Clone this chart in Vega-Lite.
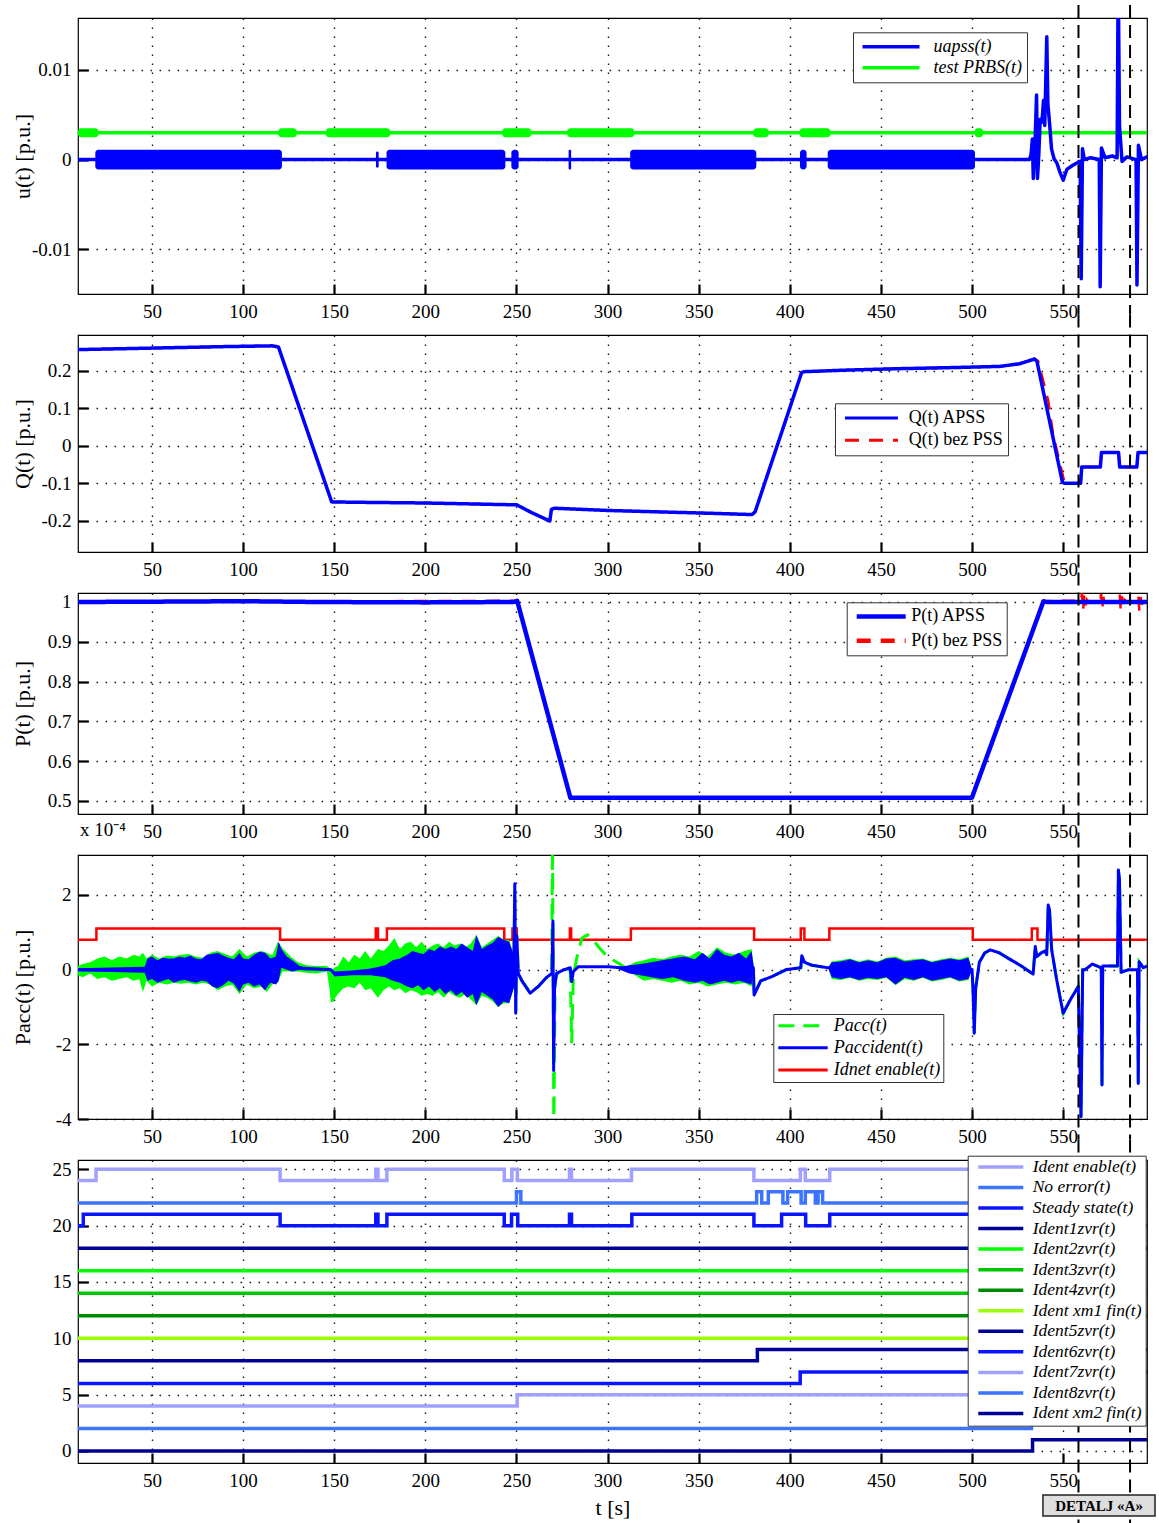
{
"$schema": "https://vega.github.io/schema/vega-lite/v6.json",
"background": "white",
"padding": {"left": 10, "top": 3, "right": 4, "bottom": 4},
"spacing": 41,
"bounds": "flush",
"resolve": {"scale": {"color": "independent", "strokeDash": "independent"}, "legend": {"color": "independent", "strokeDash": "independent"}},
"datasets": {
"dl": [{"t": 558.4}, {"t": 586.7}],
"u": [
{"s":"test PRBS(t)","t":9.4,"v":0.003},{"s":"test PRBS(t)","t":596,"v":0.003},
{"s":"uapss(t)","t":9.4,"v":0},{"s":"uapss(t)","t":531.5,"v":0},{"s":"uapss(t)","t":532.4,"v":0.0006},{"s":"uapss(t)","t":533.1,"v":0.0023},{"s":"uapss(t)","t":533.6,"v":-0.0021},{"s":"uapss(t)","t":534.4,"v":0.001},{"s":"uapss(t)","t":535.4,"v":0.0072},{"s":"uapss(t)","t":535.9,"v":-0.0021},{"s":"uapss(t)","t":536.6,"v":0.0004},{"s":"uapss(t)","t":537.4,"v":0.0045},{"s":"uapss(t)","t":538.4,"v":0.0042},{"s":"uapss(t)","t":539.2,"v":0.0066},{"s":"uapss(t)","t":539.9,"v":0.0038},{"s":"uapss(t)","t":541.0,"v":0.0137},{"s":"uapss(t)","t":541.6,"v":0.0062},{"s":"uapss(t)","t":542.6,"v":0.0039},{"s":"uapss(t)","t":543.6,"v":0.0012},{"s":"uapss(t)","t":545.0,"v":0.0001},{"s":"uapss(t)","t":546.6,"v":-0.0004},{"s":"uapss(t)","t":548.2,"v":-0.0014},{"s":"uapss(t)","t":550.0,"v":-0.0023},{"s":"uapss(t)","t":552.0,"v":-0.0011},{"s":"uapss(t)","t":555.5,"v":-0.0006},{"s":"uapss(t)","t":559.3,"v":-0.0002},{"s":"uapss(t)","t":559.9,"v":-0.0133},{"s":"uapss(t)","t":560.6,"v":0.0012},{"s":"uapss(t)","t":561.6,"v":0.0},{"s":"uapss(t)","t":565.0,"v":0.0002},{"s":"uapss(t)","t":569.8,"v":0.0},{"s":"uapss(t)","t":570.3,"v":-0.0142},{"s":"uapss(t)","t":571.0,"v":0.0013},{"s":"uapss(t)","t":573.0,"v":0.0002},{"s":"uapss(t)","t":577.0,"v":0.0004},{"s":"uapss(t)","t":579.6,"v":0.0002},{"s":"uapss(t)","t":580.2,"v":0.021},{"s":"uapss(t)","t":580.9,"v":0.0038},{"s":"uapss(t)","t":582.3,"v":-0.0002},{"s":"uapss(t)","t":585.0,"v":0.0003},{"s":"uapss(t)","t":590.0,"v":0.0},{"s":"uapss(t)","t":590.5,"v":-0.014},{"s":"uapss(t)","t":591.3,"v":0.0016},{"s":"uapss(t)","t":593.0,"v":0.0},{"s":"uapss(t)","t":596,"v":0.0003}
],
"ub": [
{"s":"uapss(t)","t0":18.9,"t1":121.3,"lo":-0.0011,"hi":0.0011},
{"s":"uapss(t)","t0":172.9,"t1":174.4,"lo":-0.0009,"hi":0.0009},
{"s":"uapss(t)","t0":178.7,"t1":243.9,"lo":-0.0011,"hi":0.0011},
{"s":"uapss(t)","t0":247.2,"t1":251.2,"lo":-0.0011,"hi":0.0011},
{"s":"uapss(t)","t0":278.6,"t1":280.0,"lo":-0.0011,"hi":0.0011},
{"s":"uapss(t)","t0":312.4,"t1":381.6,"lo":-0.0011,"hi":0.0011},
{"s":"uapss(t)","t0":405.6,"t1":409.2,"lo":-0.0011,"hi":0.0011},
{"s":"uapss(t)","t0":420.8,"t1":501.6,"lo":-0.0011,"hi":0.0011},
{"s":"test PRBS(t)","t0":9.4,"t1":20.6,"lo":0.0025,"hi":0.0035},
{"s":"test PRBS(t)","t0":119.4,"t1":129.4,"lo":0.0025,"hi":0.0035},
{"s":"test PRBS(t)","t0":145.4,"t1":180.7,"lo":0.0025,"hi":0.0035},
{"s":"test PRBS(t)","t0":242.2,"t1":258.1,"lo":0.0025,"hi":0.0035},
{"s":"test PRBS(t)","t0":277.9,"t1":314.6,"lo":0.0025,"hi":0.0035},
{"s":"test PRBS(t)","t0":380.0,"t1":388.4,"lo":0.0025,"hi":0.0035},
{"s":"test PRBS(t)","t0":405.4,"t1":422.3,"lo":0.0025,"hi":0.0035},
{"s":"test PRBS(t)","t0":501.5,"t1":506.0,"lo":0.0025,"hi":0.0035}
],
"q": [
{"s":"Q(t) APSS","t":9.4,"v":0.257},{"s":"Q(t) APSS","t":30,"v":0.259},{"s":"Q(t) APSS","t":60,"v":0.262},{"s":"Q(t) APSS","t":90,"v":0.265},{"s":"Q(t) APSS","t":116,"v":0.267},{"s":"Q(t) APSS","t":119.4,"v":0.264},{"s":"Q(t) APSS","t":148.6,"v":-0.150},{"s":"Q(t) APSS","t":160,"v":-0.151},{"s":"Q(t) APSS","t":200,"v":-0.153},{"s":"Q(t) APSS","t":230,"v":-0.156},{"s":"Q(t) APSS","t":250.2,"v":-0.158},{"s":"Q(t) APSS","t":258,"v":-0.178},{"s":"Q(t) APSS","t":266,"v":-0.196},{"s":"Q(t) APSS","t":268.3,"v":-0.201},{"s":"Q(t) APSS","t":269.2,"v":-0.170},{"s":"Q(t) APSS","t":271,"v":-0.167},{"s":"Q(t) APSS","t":300,"v":-0.173},{"s":"Q(t) APSS","t":330,"v":-0.177},{"s":"Q(t) APSS","t":360,"v":-0.181},{"s":"Q(t) APSS","t":379.3,"v":-0.184},{"s":"Q(t) APSS","t":381,"v":-0.176},{"s":"Q(t) APSS","t":406.5,"v":0.196},{"s":"Q(t) APSS","t":408,"v":0.198},{"s":"Q(t) APSS","t":430,"v":0.202},{"s":"Q(t) APSS","t":460,"v":0.206},{"s":"Q(t) APSS","t":490,"v":0.209},{"s":"Q(t) APSS","t":515,"v":0.212},{"s":"Q(t) APSS","t":526,"v":0.219},{"s":"Q(t) APSS","t":534.3,"v":0.232},{"s":"Q(t) APSS","t":535.6,"v":0.226},{"s":"Q(t) APSS","t":549.6,"v":-0.098},{"s":"Q(t) APSS","t":550.6,"v":-0.1},{"s":"Q(t) APSS","t":559.6,"v":-0.1},{"s":"Q(t) APSS","t":560.2,"v":-0.057},{"s":"Q(t) APSS","t":570.4,"v":-0.057},{"s":"Q(t) APSS","t":571,"v":-0.018},{"s":"Q(t) APSS","t":580.4,"v":-0.018},{"s":"Q(t) APSS","t":581,"v":-0.057},{"s":"Q(t) APSS","t":590.4,"v":-0.057},{"s":"Q(t) APSS","t":591.1,"v":-0.018},{"s":"Q(t) APSS","t":596,"v":-0.018},
{"s":"Q(t) bez PSS","t":9.4,"v":0.257},{"s":"Q(t) bez PSS","t":30,"v":0.259},{"s":"Q(t) bez PSS","t":60,"v":0.262},{"s":"Q(t) bez PSS","t":90,"v":0.265},{"s":"Q(t) bez PSS","t":116,"v":0.267},{"s":"Q(t) bez PSS","t":119.4,"v":0.264},{"s":"Q(t) bez PSS","t":148.6,"v":-0.150},{"s":"Q(t) bez PSS","t":160,"v":-0.151},{"s":"Q(t) bez PSS","t":200,"v":-0.153},{"s":"Q(t) bez PSS","t":230,"v":-0.156},{"s":"Q(t) bez PSS","t":250.2,"v":-0.158},{"s":"Q(t) bez PSS","t":258,"v":-0.178},{"s":"Q(t) bez PSS","t":266,"v":-0.196},{"s":"Q(t) bez PSS","t":268.3,"v":-0.201},{"s":"Q(t) bez PSS","t":269.2,"v":-0.170},{"s":"Q(t) bez PSS","t":271,"v":-0.167},{"s":"Q(t) bez PSS","t":300,"v":-0.173},{"s":"Q(t) bez PSS","t":330,"v":-0.177},{"s":"Q(t) bez PSS","t":360,"v":-0.181},{"s":"Q(t) bez PSS","t":379.3,"v":-0.184},{"s":"Q(t) bez PSS","t":381,"v":-0.176},{"s":"Q(t) bez PSS","t":406.5,"v":0.196},{"s":"Q(t) bez PSS","t":408,"v":0.198},{"s":"Q(t) bez PSS","t":430,"v":0.202},{"s":"Q(t) bez PSS","t":460,"v":0.206},{"s":"Q(t) bez PSS","t":490,"v":0.209},{"s":"Q(t) bez PSS","t":515,"v":0.212},{"s":"Q(t) bez PSS","t":526,"v":0.219},{"s":"Q(t) bez PSS","t":534.3,"v":0.232},{"s":"Q(t) bez PSS","t":536.3,"v":0.226},{"s":"Q(t) bez PSS","t":541.8,"v":0.12},{"s":"Q(t) bez PSS","t":544.5,"v":0.03},{"s":"Q(t) bez PSS","t":550.8,"v":-0.1},{"s":"Q(t) bez PSS","t":559.6,"v":-0.1},{"s":"Q(t) bez PSS","t":560.2,"v":-0.057},{"s":"Q(t) bez PSS","t":570.4,"v":-0.057},{"s":"Q(t) bez PSS","t":571,"v":-0.018},{"s":"Q(t) bez PSS","t":580.4,"v":-0.018},{"s":"Q(t) bez PSS","t":581,"v":-0.057},{"s":"Q(t) bez PSS","t":590.4,"v":-0.057},{"s":"Q(t) bez PSS","t":591.1,"v":-0.018},{"s":"Q(t) bez PSS","t":596,"v":-0.018}
],
"p": [
{"s":"P(t) APSS","t":9.4,"v":1.0},{"s":"P(t) APSS","t":60,"v":1.001},{"s":"P(t) APSS","t":100,"v":1.002},{"s":"P(t) APSS","t":140,"v":1.0},{"s":"P(t) APSS","t":200,"v":0.999},{"s":"P(t) APSS","t":248.5,"v":1.0},{"s":"P(t) APSS","t":250.4,"v":1.003},{"s":"P(t) APSS","t":279.6,"v":0.508},{"s":"P(t) APSS","t":300,"v":0.508},{"s":"P(t) APSS","t":400,"v":0.508},{"s":"P(t) APSS","t":499.9,"v":0.508},{"s":"P(t) APSS","t":539.2,"v":1.002},{"s":"P(t) APSS","t":541,"v":1.0},{"s":"P(t) APSS","t":596,"v":1.0},
{"s":"P(t) bez PSS","t":9.4,"v":1.0},{"s":"P(t) bez PSS","t":250.4,"v":1.003},{"s":"P(t) bez PSS","t":279.6,"v":0.508},{"s":"P(t) bez PSS","t":499.9,"v":0.508},{"s":"P(t) bez PSS","t":539.2,"v":1.002},{"s":"P(t) bez PSS","t":545,"v":1.003},{"s":"P(t) bez PSS","t":556,"v":1.003},{"s":"P(t) bez PSS","t":559.8,"v":1.0},{"s":"P(t) bez PSS","t":560.3,"v":1.022},{"s":"P(t) bez PSS","t":560.9,"v":0.978},{"s":"P(t) bez PSS","t":561.6,"v":1.016},{"s":"P(t) bez PSS","t":562.3,"v":0.99},{"s":"P(t) bez PSS","t":563,"v":1.006},{"s":"P(t) bez PSS","t":564,"v":1.0},{"s":"P(t) bez PSS","t":570.3,"v":1.0},{"s":"P(t) bez PSS","t":570.8,"v":1.02},{"s":"P(t) bez PSS","t":571.4,"v":0.98},{"s":"P(t) bez PSS","t":572.1,"v":1.013},{"s":"P(t) bez PSS","t":572.8,"v":0.992},{"s":"P(t) bez PSS","t":573.6,"v":1.004},{"s":"P(t) bez PSS","t":574.5,"v":1.0},{"s":"P(t) bez PSS","t":580.5,"v":1.0},{"s":"P(t) bez PSS","t":581,"v":1.024},{"s":"P(t) bez PSS","t":581.6,"v":0.976},{"s":"P(t) bez PSS","t":582.3,"v":1.014},{"s":"P(t) bez PSS","t":583,"v":0.99},{"s":"P(t) bez PSS","t":583.8,"v":1.005},{"s":"P(t) bez PSS","t":585,"v":1.0},{"s":"P(t) bez PSS","t":590.7,"v":1.0},{"s":"P(t) bez PSS","t":591.2,"v":1.02},{"s":"P(t) bez PSS","t":591.8,"v":0.977},{"s":"P(t) bez PSS","t":592.5,"v":1.012},{"s":"P(t) bez PSS","t":593.2,"v":0.993},{"s":"P(t) bez PSS","t":594,"v":1.004},{"s":"P(t) bez PSS","t":596,"v":1.0}
],
"pl": [
{"s":"Idnet enable(t)","t":9.4,"v":0.8},{"s":"Idnet enable(t)","t":19.5,"v":1.1},{"s":"Idnet enable(t)","t":120.3,"v":0.8},{"s":"Idnet enable(t)","t":172.8,"v":1.1},{"s":"Idnet enable(t)","t":174,"v":0.8},{"s":"Idnet enable(t)","t":178.9,"v":1.1},{"s":"Idnet enable(t)","t":243.3,"v":0.8},{"s":"Idnet enable(t)","t":247.8,"v":1.1},{"s":"Idnet enable(t)","t":250.2,"v":0.8},{"s":"Idnet enable(t)","t":279.3,"v":1.1},{"s":"Idnet enable(t)","t":280,"v":0.8},{"s":"Idnet enable(t)","t":312.8,"v":1.1},{"s":"Idnet enable(t)","t":380.4,"v":0.8},{"s":"Idnet enable(t)","t":406,"v":1.1},{"s":"Idnet enable(t)","t":408,"v":0.8},{"s":"Idnet enable(t)","t":421.7,"v":1.1},{"s":"Idnet enable(t)","t":500.4,"v":0.8},{"s":"Idnet enable(t)","t":532.8,"v":1.1},{"s":"Idnet enable(t)","t":535.9,"v":0.8},{"s":"Idnet enable(t)","t":596,"v":0.8},
{"s":"Paccident(t)","t":9.4,"v":0},{"s":"Paccident(t)","t":47,"v":0},{"s":"Paccident(t)","t":118.5,"v":0.05},{"s":"Paccident(t)","t":119.5,"v":0.4},{"s":"Paccident(t)","t":121,"v":0.25},{"s":"Paccident(t)","t":124,"v":0.15},{"s":"Paccident(t)","t":130,"v":0.05},{"s":"Paccident(t)","t":140,"v":0.02},{"s":"Paccident(t)","t":148,"v":0},{"s":"Paccident(t)","t":150,"v":-0.1},{"s":"Paccident(t)","t":165,"v":-0.1},{"s":"Paccident(t)","t":178,"v":-0.05},{"s":"Paccident(t)","t":185,"v":0},{"s":"Paccident(t)","t":248.5,"v":0},{"s":"Paccident(t)","t":249.1,"v":2.3},{"s":"Paccident(t)","t":249.6,"v":-1.17},{"s":"Paccident(t)","t":250.2,"v":0.9},{"s":"Paccident(t)","t":251,"v":-0.1},{"s":"Paccident(t)","t":253,"v":-0.3},{"s":"Paccident(t)","t":257.5,"v":-0.63},{"s":"Paccident(t)","t":262,"v":-0.45},{"s":"Paccident(t)","t":266.7,"v":-0.2},{"s":"Paccident(t)","t":269.5,"v":-0.1},{"s":"Paccident(t)","t":270,"v":1.3},{"s":"Paccident(t)","t":270.4,"v":-2.7},{"s":"Paccident(t)","t":270.9,"v":-0.5},{"s":"Paccident(t)","t":272,"v":-0.1},{"s":"Paccident(t)","t":276,"v":0},{"s":"Paccident(t)","t":279.5,"v":0.05},{"s":"Paccident(t)","t":280.3,"v":-0.32},{"s":"Paccident(t)","t":281.2,"v":-0.05},{"s":"Paccident(t)","t":284,"v":0.08},{"s":"Paccident(t)","t":300,"v":0.08},{"s":"Paccident(t)","t":310,"v":0.04},{"s":"Paccident(t)","t":380,"v":0.05},{"s":"Paccident(t)","t":380.4,"v":-0.68},{"s":"Paccident(t)","t":384,"v":-0.3},{"s":"Paccident(t)","t":390,"v":-0.19},{"s":"Paccident(t)","t":398,"v":0},{"s":"Paccident(t)","t":406,"v":0.05},{"s":"Paccident(t)","t":406.6,"v":0.37},{"s":"Paccident(t)","t":408,"v":0.2},{"s":"Paccident(t)","t":412,"v":0.12},{"s":"Paccident(t)","t":421,"v":0.05},{"s":"Paccident(t)","t":500,"v":0},{"s":"Paccident(t)","t":500.5,"v":-0.5},{"s":"Paccident(t)","t":501.2,"v":-1.7},{"s":"Paccident(t)","t":502,"v":-0.5},{"s":"Paccident(t)","t":504,"v":0.2},{"s":"Paccident(t)","t":507,"v":0.45},{"s":"Paccident(t)","t":510,"v":0.53},{"s":"Paccident(t)","t":515,"v":0.45},{"s":"Paccident(t)","t":520,"v":0.3},{"s":"Paccident(t)","t":527,"v":0.1},{"s":"Paccident(t)","t":533.5,"v":-0.12},{"s":"Paccident(t)","t":534.7,"v":0.62},{"s":"Paccident(t)","t":535.5,"v":0.35},{"s":"Paccident(t)","t":538,"v":0.45},{"s":"Paccident(t)","t":540,"v":0.5},{"s":"Paccident(t)","t":541,"v":0.4},{"s":"Paccident(t)","t":541.8,"v":1.73},{"s":"Paccident(t)","t":542.5,"v":1.6},{"s":"Paccident(t)","t":543.7,"v":0.53},{"s":"Paccident(t)","t":546.4,"v":-0.26},{"s":"Paccident(t)","t":550,"v":-1.17},{"s":"Paccident(t)","t":554,"v":-0.8},{"s":"Paccident(t)","t":558.3,"v":-0.45},{"s":"Paccident(t)","t":559.8,"v":-3.94},{"s":"Paccident(t)","t":560.7,"v":0},{"s":"Paccident(t)","t":562,"v":0},{"s":"Paccident(t)","t":566,"v":0.15},{"s":"Paccident(t)","t":570.9,"v":0.05},{"s":"Paccident(t)","t":571.3,"v":-3.09},{"s":"Paccident(t)","t":571.7,"v":0.1},{"s":"Paccident(t)","t":575,"v":0.1},{"s":"Paccident(t)","t":579.8,"v":0.1},{"s":"Paccident(t)","t":580.3,"v":2.67},{"s":"Paccident(t)","t":580.9,"v":2.4},{"s":"Paccident(t)","t":581.8,"v":-0.07},{"s":"Paccident(t)","t":586,"v":0},{"s":"Paccident(t)","t":590.8,"v":0},{"s":"Paccident(t)","t":591.2,"v":-3.05},{"s":"Paccident(t)","t":591.7,"v":0.21},{"s":"Paccident(t)","t":594,"v":0.05},{"s":"Paccident(t)","t":596,"v":0.1},
{"s":"Pacc(t)","t":9.4,"v":0},{"s":"Pacc(t)","t":148,"v":0},{"s":"Pacc(t)","t":148.8,"v":-0.86},{"s":"Pacc(t)","t":150,"v":-0.4},{"s":"Pacc(t)","t":152,"v":-0.2},{"s":"Pacc(t)","t":165,"v":-0.1},{"s":"Pacc(t)","t":178,"v":-0.05},{"s":"Pacc(t)","t":185,"v":0},{"s":"Pacc(t)","t":248.5,"v":0},{"s":"Pacc(t)","t":249.1,"v":2.1},{"s":"Pacc(t)","t":249.6,"v":-1.1},{"s":"Pacc(t)","t":250.2,"v":0.9},{"s":"Pacc(t)","t":251,"v":-0.1},{"s":"Pacc(t)","t":253,"v":-0.3},{"s":"Pacc(t)","t":257.5,"v":-0.6},{"s":"Pacc(t)","t":262,"v":-0.45},{"s":"Pacc(t)","t":266.7,"v":-0.2},{"s":"Pacc(t)","t":269.3,"v":0},{"s":"Pacc(t)","t":269.8,"v":3.3},{"s":"Pacc(t)","t":270.5,"v":-4.3},{"s":"Pacc(t)","t":271.2,"v":-0.3},{"s":"Pacc(t)","t":272.5,"v":-0.1},{"s":"Pacc(t)","t":276,"v":0},{"s":"Pacc(t)","t":279.5,"v":0},{"s":"Pacc(t)","t":280.3,"v":-1.97},{"s":"Pacc(t)","t":281.2,"v":-0.2},{"s":"Pacc(t)","t":283,"v":0.3},{"s":"Pacc(t)","t":286,"v":0.85},{"s":"Pacc(t)","t":289,"v":0.93},{"s":"Pacc(t)","t":292,"v":0.8},{"s":"Pacc(t)","t":296,"v":0.55},{"s":"Pacc(t)","t":300,"v":0.35},{"s":"Pacc(t)","t":305,"v":0.2},{"s":"Pacc(t)","t":310,"v":0.05},{"s":"Pacc(t)","t":380,"v":0.05},{"s":"Pacc(t)","t":380.4,"v":-0.68},{"s":"Pacc(t)","t":384,"v":-0.3},{"s":"Pacc(t)","t":390,"v":-0.19},{"s":"Pacc(t)","t":398,"v":0},{"s":"Pacc(t)","t":406,"v":0.05},{"s":"Pacc(t)","t":406.6,"v":0.37},{"s":"Pacc(t)","t":408,"v":0.2},{"s":"Pacc(t)","t":412,"v":0.12},{"s":"Pacc(t)","t":421,"v":0.05},{"s":"Pacc(t)","t":500,"v":0},{"s":"Pacc(t)","t":500.5,"v":-0.5},{"s":"Pacc(t)","t":501.2,"v":-1.7},{"s":"Pacc(t)","t":502,"v":-0.5},{"s":"Pacc(t)","t":504,"v":0.2},{"s":"Pacc(t)","t":507,"v":0.45},{"s":"Pacc(t)","t":510,"v":0.53},{"s":"Pacc(t)","t":515,"v":0.45},{"s":"Pacc(t)","t":520,"v":0.3},{"s":"Pacc(t)","t":527,"v":0.1},{"s":"Pacc(t)","t":533.5,"v":-0.12},{"s":"Pacc(t)","t":534.7,"v":0.62},{"s":"Pacc(t)","t":535.5,"v":0.35},{"s":"Pacc(t)","t":538,"v":0.45},{"s":"Pacc(t)","t":540,"v":0.5},{"s":"Pacc(t)","t":541,"v":0.4},{"s":"Pacc(t)","t":541.8,"v":1.73},{"s":"Pacc(t)","t":542.5,"v":1.6},{"s":"Pacc(t)","t":543.7,"v":0.53},{"s":"Pacc(t)","t":546.4,"v":-0.26},{"s":"Pacc(t)","t":550,"v":-1.17},{"s":"Pacc(t)","t":554,"v":-0.8},{"s":"Pacc(t)","t":558.3,"v":-0.45},{"s":"Pacc(t)","t":559.8,"v":-3.94},{"s":"Pacc(t)","t":560.7,"v":0},{"s":"Pacc(t)","t":562,"v":0},{"s":"Pacc(t)","t":566,"v":0.15},{"s":"Pacc(t)","t":570.9,"v":0.05},{"s":"Pacc(t)","t":571.3,"v":-3.09},{"s":"Pacc(t)","t":571.7,"v":0.1},{"s":"Pacc(t)","t":575,"v":0.1},{"s":"Pacc(t)","t":579.8,"v":0.1},{"s":"Pacc(t)","t":580.3,"v":2.67},{"s":"Pacc(t)","t":580.9,"v":2.4},{"s":"Pacc(t)","t":581.8,"v":-0.07},{"s":"Pacc(t)","t":586,"v":0},{"s":"Pacc(t)","t":590.8,"v":0},{"s":"Pacc(t)","t":591.2,"v":-3.05},{"s":"Pacc(t)","t":591.7,"v":0.21},{"s":"Pacc(t)","t":594,"v":0.05},{"s":"Pacc(t)","t":596,"v":0.1}
],
"ge": [
{"g":1,"t":9.4,"lo":-0.15,"hi":0.1},{"g":1,"t":12,"lo":-0.2,"hi":0.15},{"g":1,"t":16,"lo":-0.1,"hi":0.2},{"g":1,"t":20,"lo":-0.25,"hi":0.3},{"g":1,"t":24,"lo":-0.2,"hi":0.35},{"g":1,"t":28,"lo":-0.3,"hi":0.25},{"g":1,"t":32,"lo":-0.25,"hi":0.35},{"g":1,"t":36,"lo":-0.2,"hi":0.3},{"g":1,"t":40,"lo":-0.3,"hi":0.4},{"g":1,"t":43,"lo":-0.25,"hi":0.35},{"g":1,"t":45,"lo":-0.6,"hi":0.45},{"g":1,"t":47,"lo":-0.3,"hi":0.3},{"g":1,"t":50,"lo":-0.45,"hi":0.4},{"g":1,"t":54,"lo":-0.35,"hi":0.3},{"g":1,"t":58,"lo":-0.4,"hi":0.38},{"g":1,"t":62,"lo":-0.35,"hi":0.35},{"g":1,"t":66,"lo":-0.38,"hi":0.4},{"g":1,"t":70,"lo":-0.35,"hi":0.42},{"g":1,"t":74,"lo":-0.4,"hi":0.35},{"g":1,"t":78,"lo":-0.35,"hi":0.32},{"g":1,"t":82,"lo":-0.4,"hi":0.45},{"g":1,"t":86,"lo":-0.55,"hi":0.5},{"g":1,"t":90,"lo":-0.45,"hi":0.42},{"g":1,"t":94,"lo":-0.4,"hi":0.35},{"g":1,"t":98,"lo":-0.65,"hi":0.55},{"g":1,"t":102,"lo":-0.4,"hi":0.35},{"g":1,"t":106,"lo":-0.5,"hi":0.45},{"g":1,"t":110,"lo":-0.45,"hi":0.5},{"g":1,"t":113,"lo":-0.6,"hi":0.45},{"g":1,"t":116,"lo":-0.4,"hi":0.38},{"g":1,"t":119,"lo":-0.35,"hi":0.75},{"g":1,"t":122,"lo":0.0,"hi":0.55},{"g":1,"t":126,"lo":-0.05,"hi":0.35},{"g":1,"t":130,"lo":-0.05,"hi":0.2},{"g":1,"t":135,"lo":-0.08,"hi":0.12},{"g":1,"t":140,"lo":-0.1,"hi":0.1},{"g":1,"t":146,"lo":-0.05,"hi":0.1},{"g":1,"t":148.5,"lo":-0.86,"hi":0},{"g":1,"t":150,"lo":-0.8,"hi":0.05},{"g":1,"t":152,"lo":-0.65,"hi":0.1},{"g":1,"t":155,"lo":-0.5,"hi":0.35},{"g":1,"t":158,"lo":-0.45,"hi":0.2},{"g":1,"t":161,"lo":-0.5,"hi":0.4},{"g":1,"t":164,"lo":-0.35,"hi":0.3},{"g":1,"t":167,"lo":-0.55,"hi":0.5},{"g":1,"t":170,"lo":-0.5,"hi":0.3},{"g":1,"t":174,"lo":-0.75,"hi":0.55},{"g":1,"t":177,"lo":-0.55,"hi":0.5},{"g":1,"t":180,"lo":-0.45,"hi":0.65},{"g":1,"t":183,"lo":-0.55,"hi":0.85},{"g":1,"t":186,"lo":-0.5,"hi":0.55},{"g":1,"t":189,"lo":-0.63,"hi":0.7},{"g":1,"t":192,"lo":-0.55,"hi":0.75},{"g":1,"t":195,"lo":-0.6,"hi":0.6},{"g":1,"t":198,"lo":-0.7,"hi":0.75},{"g":1,"t":201,"lo":-0.65,"hi":0.55},{"g":1,"t":204,"lo":-0.7,"hi":0.65},{"g":1,"t":207,"lo":-0.6,"hi":0.7},{"g":1,"t":210,"lo":-0.75,"hi":0.6},{"g":1,"t":213,"lo":-0.6,"hi":0.75},{"g":1,"t":216,"lo":-0.7,"hi":0.65},{"g":1,"t":219,"lo":-0.75,"hi":0.7},{"g":1,"t":222,"lo":-0.65,"hi":0.6},{"g":1,"t":225,"lo":-0.8,"hi":0.7},{"g":1,"t":228,"lo":-0.95,"hi":0.93},{"g":1,"t":231,"lo":-0.7,"hi":0.6},{"g":1,"t":234,"lo":-0.75,"hi":0.7},{"g":1,"t":237,"lo":-0.85,"hi":0.8},{"g":1,"t":240,"lo":-1.0,"hi":0.9},{"g":1,"t":243,"lo":-0.9,"hi":0.8},{"g":1,"t":246,"lo":-0.9,"hi":0.8},{"g":1,"t":248.5,"lo":-0.5,"hi":0.4},{"g":1,"t":250,"lo":0,"hi":0},
{"g":2,"t":310,"lo":0.03,"hi":0.07},{"g":2,"t":315,"lo":-0.15,"hi":0.2},{"g":2,"t":320,"lo":-0.3,"hi":0.25},{"g":2,"t":325,"lo":-0.25,"hi":0.32},{"g":2,"t":330,"lo":-0.3,"hi":0.28},{"g":2,"t":335,"lo":-0.35,"hi":0.35},{"g":2,"t":340,"lo":-0.3,"hi":0.4},{"g":2,"t":345,"lo":-0.4,"hi":0.35},{"g":2,"t":350,"lo":-0.35,"hi":0.5},{"g":2,"t":355,"lo":-0.45,"hi":0.35},{"g":2,"t":360,"lo":-0.4,"hi":0.6},{"g":2,"t":365,"lo":-0.35,"hi":0.45},{"g":2,"t":370,"lo":-0.4,"hi":0.4},{"g":2,"t":375,"lo":-0.35,"hi":0.5},{"g":2,"t":379,"lo":-0.45,"hi":0.55},{"g":2,"t":380.3,"lo":0.05,"hi":0.05},
{"g":3,"t":421,"lo":0.05,"hi":0.05},{"g":3,"t":423,"lo":-0.25,"hi":0.22},{"g":3,"t":428,"lo":-0.28,"hi":0.25},{"g":3,"t":433,"lo":-0.22,"hi":0.3},{"g":3,"t":438,"lo":-0.3,"hi":0.22},{"g":3,"t":443,"lo":-0.25,"hi":0.28},{"g":3,"t":448,"lo":-0.28,"hi":0.22},{"g":3,"t":453,"lo":-0.22,"hi":0.32},{"g":3,"t":458,"lo":-0.42,"hi":0.35},{"g":3,"t":463,"lo":-0.25,"hi":0.25},{"g":3,"t":468,"lo":-0.3,"hi":0.28},{"g":3,"t":473,"lo":-0.22,"hi":0.3},{"g":3,"t":478,"lo":-0.32,"hi":0.22},{"g":3,"t":483,"lo":-0.28,"hi":0.28},{"g":3,"t":488,"lo":-0.22,"hi":0.32},{"g":3,"t":493,"lo":-0.32,"hi":0.28},{"g":3,"t":498,"lo":-0.28,"hi":0.35},{"g":3,"t":500,"lo":0,"hi":0}
],
"be": [
{"g":1,"t":9.4,"lo":-0.04,"hi":0.04},{"g":1,"t":46,"lo":-0.08,"hi":0.08},{"g":1,"t":47.5,"lo":-0.3,"hi":0.3},{"g":1,"t":50,"lo":-0.25,"hi":0.35},{"g":1,"t":53,"lo":-0.35,"hi":0.25},{"g":1,"t":56,"lo":-0.3,"hi":0.32},{"g":1,"t":59,"lo":-0.25,"hi":0.3},{"g":1,"t":62,"lo":-0.35,"hi":0.3},{"g":1,"t":65,"lo":-0.3,"hi":0.35},{"g":1,"t":68,"lo":-0.28,"hi":0.32},{"g":1,"t":71,"lo":-0.32,"hi":0.38},{"g":1,"t":74,"lo":-0.35,"hi":0.3},{"g":1,"t":77,"lo":-0.3,"hi":0.28},{"g":1,"t":80,"lo":-0.32,"hi":0.4},{"g":1,"t":83,"lo":-0.45,"hi":0.42},{"g":1,"t":86,"lo":-0.5,"hi":0.45},{"g":1,"t":89,"lo":-0.42,"hi":0.38},{"g":1,"t":92,"lo":-0.3,"hi":0.32},{"g":1,"t":95,"lo":-0.38,"hi":0.28},{"g":1,"t":98,"lo":-0.6,"hi":0.45},{"g":1,"t":100,"lo":-0.4,"hi":0.3},{"g":1,"t":103,"lo":-0.35,"hi":0.28},{"g":1,"t":106,"lo":-0.45,"hi":0.4},{"g":1,"t":109,"lo":-0.4,"hi":0.48},{"g":1,"t":112,"lo":-0.55,"hi":0.45},{"g":1,"t":115,"lo":-0.35,"hi":0.3},{"g":1,"t":118,"lo":-0.4,"hi":0.35},{"g":1,"t":119.5,"lo":-0.3,"hi":0.75},{"g":1,"t":121,"lo":0.05,"hi":0.55},{"g":1,"t":124,"lo":0.0,"hi":0.35},{"g":1,"t":127,"lo":-0.05,"hi":0.25},{"g":1,"t":131,"lo":0.0,"hi":0.1},{"g":1,"t":135,"lo":-0.02,"hi":0.05},{"g":1,"t":148,"lo":-0.02,"hi":0.02},{"g":1,"t":150,"lo":-0.18,"hi":-0.05},{"g":1,"t":160,"lo":-0.15,"hi":-0.02},{"g":1,"t":170,"lo":-0.15,"hi":0.03},{"g":1,"t":178,"lo":-0.2,"hi":0.12},{"g":1,"t":182,"lo":-0.3,"hi":0.25},{"g":1,"t":186,"lo":-0.35,"hi":0.3},{"g":1,"t":190,"lo":-0.45,"hi":0.4},{"g":1,"t":193,"lo":-0.5,"hi":0.5},{"g":1,"t":196,"lo":-0.42,"hi":0.45},{"g":1,"t":199,"lo":-0.55,"hi":0.42},{"g":1,"t":202,"lo":-0.45,"hi":0.55},{"g":1,"t":205,"lo":-0.6,"hi":0.5},{"g":1,"t":208,"lo":-0.5,"hi":0.62},{"g":1,"t":211,"lo":-0.65,"hi":0.55},{"g":1,"t":214,"lo":-0.55,"hi":0.62},{"g":1,"t":217,"lo":-0.7,"hi":0.55},{"g":1,"t":220,"lo":-0.6,"hi":0.7},{"g":1,"t":223,"lo":-0.75,"hi":0.6},{"g":1,"t":226,"lo":-0.65,"hi":0.5},{"g":1,"t":228,"lo":-0.95,"hi":0.93},{"g":1,"t":231,"lo":-0.6,"hi":0.55},{"g":1,"t":234,"lo":-0.7,"hi":0.65},{"g":1,"t":237,"lo":-0.8,"hi":0.72},{"g":1,"t":240,"lo":-1.0,"hi":0.88},{"g":1,"t":243,"lo":-0.85,"hi":0.8},{"g":1,"t":246,"lo":-0.9,"hi":0.75},{"g":1,"t":248.5,"lo":-0.5,"hi":0.4},{"g":1,"t":250,"lo":0,"hi":0},
{"g":2,"t":305,"lo":0.03,"hi":0.06},{"g":2,"t":312,"lo":-0.1,"hi":0.12},{"g":2,"t":318,"lo":-0.15,"hi":0.15},{"g":2,"t":324,"lo":-0.2,"hi":0.2},{"g":2,"t":330,"lo":-0.25,"hi":0.25},{"g":2,"t":336,"lo":-0.2,"hi":0.3},{"g":2,"t":342,"lo":-0.3,"hi":0.35},{"g":2,"t":348,"lo":-0.35,"hi":0.28},{"g":2,"t":352,"lo":-0.3,"hi":0.45},{"g":2,"t":356,"lo":-0.4,"hi":0.3},{"g":2,"t":360,"lo":-0.35,"hi":0.55},{"g":2,"t":364,"lo":-0.3,"hi":0.4},{"g":2,"t":368,"lo":-0.35,"hi":0.35},{"g":2,"t":372,"lo":-0.3,"hi":0.45},{"g":2,"t":376,"lo":-0.35,"hi":0.3},{"g":2,"t":379,"lo":-0.4,"hi":0.5},{"g":2,"t":380.3,"lo":0.05,"hi":0.05},
{"g":3,"t":421,"lo":0.05,"hi":0.05},{"g":3,"t":423,"lo":-0.2,"hi":0.2},{"g":3,"t":428,"lo":-0.25,"hi":0.22},{"g":3,"t":433,"lo":-0.2,"hi":0.28},{"g":3,"t":438,"lo":-0.28,"hi":0.2},{"g":3,"t":443,"lo":-0.22,"hi":0.25},{"g":3,"t":448,"lo":-0.25,"hi":0.2},{"g":3,"t":453,"lo":-0.2,"hi":0.3},{"g":3,"t":458,"lo":-0.4,"hi":0.32},{"g":3,"t":463,"lo":-0.22,"hi":0.22},{"g":3,"t":468,"lo":-0.28,"hi":0.25},{"g":3,"t":473,"lo":-0.2,"hi":0.28},{"g":3,"t":478,"lo":-0.3,"hi":0.2},{"g":3,"t":483,"lo":-0.25,"hi":0.25},{"g":3,"t":488,"lo":-0.2,"hi":0.3},{"g":3,"t":493,"lo":-0.3,"hi":0.25},{"g":3,"t":498,"lo":-0.25,"hi":0.32},{"g":3,"t":500,"lo":0,"hi":0}
],
"st": [
{"s":"Ident enable(t)","t":9.4,"v":24},{"s":"Ident enable(t)","t":19.3,"v":25},{"s":"Ident enable(t)","t":120.3,"v":24},{"s":"Ident enable(t)","t":172.8,"v":25},{"s":"Ident enable(t)","t":174,"v":24},{"s":"Ident enable(t)","t":178.9,"v":25},{"s":"Ident enable(t)","t":243.3,"v":24},{"s":"Ident enable(t)","t":247.5,"v":25},{"s":"Ident enable(t)","t":250.5,"v":24},{"s":"Ident enable(t)","t":279.1,"v":25},{"s":"Ident enable(t)","t":280.2,"v":24},{"s":"Ident enable(t)","t":313.1,"v":25},{"s":"Ident enable(t)","t":380.3,"v":24},{"s":"Ident enable(t)","t":405.8,"v":25},{"s":"Ident enable(t)","t":408.5,"v":24},{"s":"Ident enable(t)","t":421.9,"v":25},{"s":"Ident enable(t)","t":500.4,"v":24},{"s":"Ident enable(t)","t":532.8,"v":25},{"s":"Ident enable(t)","t":535.9,"v":24},{"s":"Ident enable(t)","t":596,"v":24},
{"s":"No error(t)","t":9.4,"v":22},{"s":"No error(t)","t":250,"v":23},{"s":"No error(t)","t":252.4,"v":22},{"s":"No error(t)","t":381.8,"v":23},{"s":"No error(t)","t":384.6,"v":22},{"s":"No error(t)","t":388.2,"v":23},{"s":"No error(t)","t":396.2,"v":22},{"s":"No error(t)","t":398.8,"v":23},{"s":"No error(t)","t":406.2,"v":22},{"s":"No error(t)","t":408.5,"v":23},{"s":"No error(t)","t":414,"v":22},{"s":"No error(t)","t":415.5,"v":23},{"s":"No error(t)","t":418,"v":22},{"s":"No error(t)","t":596,"v":22},
{"s":"Steady state(t)","t":9.4,"v":20},{"s":"Steady state(t)","t":12.3,"v":21},{"s":"Steady state(t)","t":120.3,"v":20},{"s":"Steady state(t)","t":172.8,"v":21},{"s":"Steady state(t)","t":174,"v":20},{"s":"Steady state(t)","t":178.9,"v":21},{"s":"Steady state(t)","t":243.3,"v":20},{"s":"Steady state(t)","t":247.3,"v":21},{"s":"Steady state(t)","t":250.7,"v":20},{"s":"Steady state(t)","t":279.1,"v":21},{"s":"Steady state(t)","t":280.2,"v":20},{"s":"Steady state(t)","t":313.3,"v":21},{"s":"Steady state(t)","t":380.3,"v":20},{"s":"Steady state(t)","t":395.5,"v":21},{"s":"Steady state(t)","t":408.7,"v":20},{"s":"Steady state(t)","t":421.9,"v":21},{"s":"Steady state(t)","t":590.6,"v":20},{"s":"Steady state(t)","t":596,"v":20},
{"s":"Ident1zvr(t)","t":9.4,"v":18},{"s":"Ident1zvr(t)","t":596,"v":18},
{"s":"Ident2zvr(t)","t":9.4,"v":16},{"s":"Ident2zvr(t)","t":596,"v":16},
{"s":"Ident3zvr(t)","t":9.4,"v":14},{"s":"Ident3zvr(t)","t":596,"v":14},
{"s":"Ident4zvr(t)","t":9.4,"v":12},{"s":"Ident4zvr(t)","t":596,"v":12},
{"s":"Ident xm1 fin(t)","t":9.4,"v":10},{"s":"Ident xm1 fin(t)","t":596,"v":10},
{"s":"Ident5zvr(t)","t":9.4,"v":8},{"s":"Ident5zvr(t)","t":382.2,"v":9},{"s":"Ident5zvr(t)","t":596,"v":9},
{"s":"Ident6zvr(t)","t":9.4,"v":6},{"s":"Ident6zvr(t)","t":405.7,"v":7},{"s":"Ident6zvr(t)","t":596,"v":7},
{"s":"Ident7zvr(t)","t":9.4,"v":4},{"s":"Ident7zvr(t)","t":250.4,"v":5},{"s":"Ident7zvr(t)","t":596,"v":5},
{"s":"Ident8zvr(t)","t":9.4,"v":2},{"s":"Ident8zvr(t)","t":532.6,"v":3},{"s":"Ident8zvr(t)","t":596,"v":3},
{"s":"Ident xm2 fin(t)","t":9.4,"v":0},{"s":"Ident xm2 fin(t)","t":533.2,"v":1},{"s":"Ident xm2 fin(t)","t":596,"v":1}
]
},
"vconcat": [
{
"width": 1069, "height": 276,
"layer": [
{"data": {"name": "ub"}, "transform": [{"filter": "datum.s == 'uapss(t)'"}], "mark": {"type": "rect", "cornerRadius": 3, "clip": true, "color": "#0000ff"},
 "encoding": {
  "x": {"field": "t0", "type": "quantitative", "scale": {"domain": [9.4, 596], "nice": false, "zero": false}, "axis": {"values": [50,100,150,200,250,300,350,400,450,500,550], "title": null}},
  "x2": {"field": "t1"},
  "y": {"field": "lo", "type": "quantitative", "scale": {"domain": [-0.015, 0.0158], "nice": false, "zero": false}, "axis": {"values": [-0.01, 0, 0.01], "title": "u(t) [p.u.]", "labelExpr": "datum.value < 0 ? '-' + format(-datum.value, '~g') : format(datum.value, '~g')"}},
  "y2": {"field": "hi"}
 }},
{"data": {"name": "ub"}, "transform": [{"filter": "datum.s == 'test PRBS(t)'"}], "mark": {"type": "rect", "cornerRadius": 3, "clip": true, "color": "#00ff00"},
 "encoding": {
  "x": {"field": "t0", "type": "quantitative", "scale": {"domain": [9.4, 596], "nice": false, "zero": false}, "axis": {"values": [50,100,150,200,250,300,350,400,450,500,550], "title": null}},
  "x2": {"field": "t1"},
  "y": {"field": "lo", "type": "quantitative", "scale": {"domain": [-0.015, 0.0158], "nice": false, "zero": false}, "axis": {"values": [-0.01, 0, 0.01], "title": "u(t) [p.u.]", "labelExpr": "datum.value < 0 ? '-' + format(-datum.value, '~g') : format(datum.value, '~g')"}},
  "y2": {"field": "hi"}
 }},
{"data": {"name": "u"}, "mark": {"type": "line", "strokeWidth": 3.5, "clip": true, "strokeCap": "round", "strokeJoin": "round"},
 "encoding": {
  "x": {"field": "t", "type": "quantitative", "scale": {"domain": [9.4, 596], "nice": false, "zero": false}, "axis": {"values": [50,100,150,200,250,300,350,400,450,500,550], "title": null}},
  "y": {"field": "v", "type": "quantitative", "scale": {"domain": [-0.015, 0.0158], "nice": false, "zero": false}, "axis": {"values": [-0.01, 0, 0.01], "title": "u(t) [p.u.]", "labelExpr": "datum.value < 0 ? '-' + format(-datum.value, '~g') : format(datum.value, '~g')"}},
  "color": {"field": "s", "type": "nominal", "scale": {"domain": ["uapss(t)", "test PRBS(t)"], "range": ["#0000ff", "#00ff00"]},
   "legend": {"title": null, "legendX": 775, "legendY": 14.3, "symbolSize": 3249, "symbolStrokeWidth": 3.5, "symbolOffset": 3, "labelOffset": 12, "padding": 4.5, "clipHeight": 20, "rowPadding": 1, "labelFontStyle": "italic", "labelFontSize": 18}}
 }},
{"data": {"name": "dl"}, "mark": {"type": "rule", "strokeDash": [13, 7], "strokeWidth": 2, "color": "#000"},
 "encoding": {"x": {"field": "t", "type": "quantitative"}, "y": {"datum": 0.01725}, "y2": {"datum": -0.01729}}}
]
},
{
"width": 1069, "height": 217,
"layer": [
{"data": {"name": "q"}, "transform": [{"filter": "datum.s == 'Q(t) bez PSS'"}], "mark": {"type": "line", "strokeWidth": 2.5, "clip": true},
 "encoding": {
  "x": {"field": "t", "type": "quantitative", "scale": {"domain": [9.4, 596], "nice": false, "zero": false}, "axis": {"values": [50,100,150,200,250,300,350,400,450,500,550], "title": null}},
  "y": {"field": "v", "type": "quantitative", "scale": {"domain": [-0.284, 0.296], "nice": false, "zero": false}, "axis": {"values": [-0.2, -0.1, 0, 0.1, 0.2], "title": "Q(t) [p.u.]", "labelExpr": "datum.value < 0 ? '-' + format(-datum.value, '~g') : format(datum.value, '~g')"}},
  "color": {"field": "s", "type": "nominal", "scale": {"domain": ["Q(t) APSS", "Q(t) bez PSS"], "range": ["#0000ff", "#ff0000"]},
   "legend": {"title": null, "legendX": 757, "legendY": 68.3, "symbolSize": 2809, "symbolStrokeWidth": 3, "symbolOffset": 3.85, "labelOffset": 9.35, "padding": 4.65, "clipHeight": 20, "rowPadding": 2.4, "labelFontSize": 18}},
  "strokeDash": {"field": "s", "type": "nominal", "scale": {"domain": ["Q(t) APSS", "Q(t) bez PSS"], "range": [[1, 0], [14, 10]]},
   "legend": {"title": null, "legendX": 757, "legendY": 68.3, "symbolSize": 2809, "symbolStrokeWidth": 3, "symbolOffset": 3.85, "labelOffset": 9.35, "padding": 4.65, "clipHeight": 20, "rowPadding": 2.4, "labelFontSize": 18}}
 }},
{"data": {"name": "q"}, "transform": [{"filter": "datum.s == 'Q(t) APSS'"}], "mark": {"type": "line", "strokeWidth": 3.5, "clip": true, "strokeJoin": "round"},
 "encoding": {
  "x": {"field": "t", "type": "quantitative", "scale": {"domain": [9.4, 596], "nice": false, "zero": false}, "axis": {"values": [50,100,150,200,250,300,350,400,450,500,550], "title": null}},
  "y": {"field": "v", "type": "quantitative", "scale": {"domain": [-0.284, 0.296], "nice": false, "zero": false}, "axis": {"values": [-0.2, -0.1, 0, 0.1, 0.2], "title": "Q(t) [p.u.]", "labelExpr": "datum.value < 0 ? '-' + format(-datum.value, '~g') : format(datum.value, '~g')"}},
  "color": {"field": "s", "type": "nominal", "scale": {"domain": ["Q(t) APSS", "Q(t) bez PSS"], "range": ["#0000ff", "#ff0000"]},
   "legend": {"title": null, "legendX": 757, "legendY": 68.3, "symbolSize": 2809, "symbolStrokeWidth": 3, "symbolOffset": 3.85, "labelOffset": 9.35, "padding": 4.65, "clipHeight": 20, "rowPadding": 2.4, "labelFontSize": 18}},
  "strokeDash": {"field": "s", "type": "nominal", "scale": {"domain": ["Q(t) APSS", "Q(t) bez PSS"], "range": [[1, 0], [14, 10]]},
   "legend": {"title": null, "legendX": 757, "legendY": 68.3, "symbolSize": 2809, "symbolStrokeWidth": 3, "symbolOffset": 3.85, "labelOffset": 9.35, "padding": 4.65, "clipHeight": 20, "rowPadding": 2.4, "labelFontSize": 18}}
 }},
{"data": {"name": "dl"}, "mark": {"type": "rule", "strokeDash": [13, 7], "strokeWidth": 2, "color": "#000"},
 "encoding": {"x": {"field": "t", "type": "quantitative"}, "y": {"datum": 0.3508}, "y2": {"datum": -0.3388}}}
]
},
{
"width": 1069, "height": 221,
"layer": [
{"data": {"name": "p"}, "transform": [{"filter": "datum.s == 'P(t) bez PSS'"}], "mark": {"type": "line", "strokeWidth": 2.5, "clip": true},
 "encoding": {
  "x": {"field": "t", "type": "quantitative", "scale": {"domain": [9.4, 596], "nice": false, "zero": false}, "axis": {"values": [50,100,150,200,250,300,350,400,450,500,550], "title": null}},
  "y": {"field": "v", "type": "quantitative", "scale": {"domain": [0.4673, 1.0226], "nice": false, "zero": false}, "axis": {"values": [0.5, 0.6, 0.7, 0.8, 0.9, 1], "title": "P(t) [p.u.]", "labelExpr": "datum.value < 0 ? '-' + format(-datum.value, '~g') : format(datum.value, '~g')"}},
  "color": {"field": "s", "type": "nominal", "scale": {"domain": ["P(t) APSS", "P(t) bez PSS"], "range": ["#0000ff", "#ff0000"]},
   "legend": {"title": null, "legendX": 768.7, "legendY": 9.3, "symbolSize": 2401, "symbolStrokeWidth": 4.5, "symbolOffset": 3.35, "labelOffset": 3.15, "padding": 4.15, "clipHeight": 20, "rowPadding": 4.4, "labelFontSize": 18}},
  "strokeDash": {"field": "s", "type": "nominal", "scale": {"domain": ["P(t) APSS", "P(t) bez PSS"], "range": [[1, 0], [14, 10]]},
   "legend": {"title": null, "legendX": 768.7, "legendY": 9.3, "symbolSize": 2401, "symbolStrokeWidth": 4.5, "symbolOffset": 3.35, "labelOffset": 3.15, "padding": 4.15, "clipHeight": 20, "rowPadding": 4.4, "labelFontSize": 18}}
 }},
{"data": {"name": "p"}, "transform": [{"filter": "datum.s == 'P(t) APSS'"}], "mark": {"type": "line", "strokeWidth": 4.5, "clip": true, "strokeJoin": "round"},
 "encoding": {
  "x": {"field": "t", "type": "quantitative", "scale": {"domain": [9.4, 596], "nice": false, "zero": false}, "axis": {"values": [50,100,150,200,250,300,350,400,450,500,550], "title": null}},
  "y": {"field": "v", "type": "quantitative", "scale": {"domain": [0.4673, 1.0226], "nice": false, "zero": false}, "axis": {"values": [0.5, 0.6, 0.7, 0.8, 0.9, 1], "title": "P(t) [p.u.]", "labelExpr": "datum.value < 0 ? '-' + format(-datum.value, '~g') : format(datum.value, '~g')"}},
  "color": {"field": "s", "type": "nominal", "scale": {"domain": ["P(t) APSS", "P(t) bez PSS"], "range": ["#0000ff", "#ff0000"]},
   "legend": {"title": null, "legendX": 768.7, "legendY": 9.3, "symbolSize": 2401, "symbolStrokeWidth": 4.5, "symbolOffset": 3.35, "labelOffset": 3.15, "padding": 4.15, "clipHeight": 20, "rowPadding": 4.4, "labelFontSize": 18}},
  "strokeDash": {"field": "s", "type": "nominal", "scale": {"domain": ["P(t) APSS", "P(t) bez PSS"], "range": [[1, 0], [14, 10]]},
   "legend": {"title": null, "legendX": 768.7, "legendY": 9.3, "symbolSize": 2401, "symbolStrokeWidth": 4.5, "symbolOffset": 3.35, "labelOffset": 3.15, "padding": 4.15, "clipHeight": 20, "rowPadding": 4.4, "labelFontSize": 18}}
 }},
{"data": {"name": "dl"}, "mark": {"type": "rule", "strokeDash": [13, 7], "strokeWidth": 2, "color": "#000"},
 "encoding": {"x": {"field": "t", "type": "quantitative"}, "y": {"datum": 1.0741}, "y2": {"datum": 0.4158}}}
]
},
{
"width": 1069, "height": 264,
"title": {"text": "x 10⁻⁴", "anchor": "start", "frame": "group", "offset": -6, "fontSize": 19, "fontWeight": "normal", "font": "Liberation Serif", "color": "#000", "dx": 2},
"layer": [
{"data": {"name": "pl"}, "transform": [{"filter": "datum.s == 'Idnet enable(t)'"}], "mark": {"type": "line", "strokeWidth": 2.5, "clip": true, "interpolate": "step-after"},
 "encoding": {
  "x": {"field": "t", "type": "quantitative", "scale": {"domain": [9.4, 596], "nice": false, "zero": false}, "axis": {"values": [50,100,150,200,250,300,350,400,450,500,550], "title": null}},
  "y": {"field": "v", "type": "quantitative", "scale": {"domain": [-4.0, 3.071], "nice": false, "zero": false}, "axis": {"values": [-4, -2, 0, 2], "title": "Pacc(t) [p.u.]", "labelExpr": "datum.value < 0 ? '-' + format(-datum.value, '~g') : format(datum.value, '~g')"}},
  "color": {"field": "s", "type": "nominal", "scale": {"domain": ["Pacc(t)", "Paccident(t)", "Idnet enable(t)"], "range": ["#00ff00", "#0000ff", "#ff0000"]},
   "legend": {"title": null, "legendX": 695.3, "legendY": 159, "symbolSize": 2440, "symbolStrokeWidth": 3, "symbolOffset": 0.5, "labelOffset": 4.3, "padding": 2.7, "clipHeight": 18, "rowPadding": 4.15, "labelFontStyle": "italic", "labelFontSize": 18}},
  "strokeDash": {"field": "s", "type": "nominal", "scale": {"domain": ["Pacc(t)", "Paccident(t)", "Idnet enable(t)"], "range": [[16, 9], [1, 0], [1, 0]]},
   "legend": {"title": null, "legendX": 695.3, "legendY": 159, "symbolSize": 2440, "symbolStrokeWidth": 3, "symbolOffset": 0.5, "labelOffset": 4.3, "padding": 2.7, "clipHeight": 18, "rowPadding": 4.15, "labelFontStyle": "italic", "labelFontSize": 18}}
 }},
{"data": {"name": "ge"}, "mark": {"type": "area", "color": "#00ff00", "opacity": 1, "clip": true},
 "encoding": {
  "x": {"field": "t", "type": "quantitative", "scale": {"domain": [9.4, 596], "nice": false, "zero": false}, "axis": {"values": [50,100,150,200,250,300,350,400,450,500,550], "title": null}},
  "y": {"field": "lo", "type": "quantitative", "scale": {"domain": [-4.0, 3.071], "nice": false, "zero": false}, "axis": {"values": [-4, -2, 0, 2], "title": "Pacc(t) [p.u.]", "labelExpr": "datum.value < 0 ? '-' + format(-datum.value, '~g') : format(datum.value, '~g')"}},
  "y2": {"field": "hi"},
  "detail": {"field": "g", "type": "nominal"}
 }},
{"data": {"name": "pl"}, "transform": [{"filter": "datum.s == 'Pacc(t)'"}], "mark": {"type": "line", "strokeWidth": 3, "clip": true},
 "encoding": {
  "x": {"field": "t", "type": "quantitative", "scale": {"domain": [9.4, 596], "nice": false, "zero": false}, "axis": {"values": [50,100,150,200,250,300,350,400,450,500,550], "title": null}},
  "y": {"field": "v", "type": "quantitative", "scale": {"domain": [-4.0, 3.071], "nice": false, "zero": false}, "axis": {"values": [-4, -2, 0, 2], "title": "Pacc(t) [p.u.]", "labelExpr": "datum.value < 0 ? '-' + format(-datum.value, '~g') : format(datum.value, '~g')"}},
  "color": {"field": "s", "type": "nominal", "scale": {"domain": ["Pacc(t)", "Paccident(t)", "Idnet enable(t)"], "range": ["#00ff00", "#0000ff", "#ff0000"]},
   "legend": {"title": null, "legendX": 695.3, "legendY": 159, "symbolSize": 2440, "symbolStrokeWidth": 3, "symbolOffset": 0.5, "labelOffset": 4.3, "padding": 2.7, "clipHeight": 18, "rowPadding": 4.15, "labelFontStyle": "italic", "labelFontSize": 18}},
  "strokeDash": {"field": "s", "type": "nominal", "scale": {"domain": ["Pacc(t)", "Paccident(t)", "Idnet enable(t)"], "range": [[16, 9], [1, 0], [1, 0]]},
   "legend": {"title": null, "legendX": 695.3, "legendY": 159, "symbolSize": 2440, "symbolStrokeWidth": 3, "symbolOffset": 0.5, "labelOffset": 4.3, "padding": 2.7, "clipHeight": 18, "rowPadding": 4.15, "labelFontStyle": "italic", "labelFontSize": 18}}
 }},
{"data": {"name": "be"}, "mark": {"type": "area", "color": "#0000ff", "opacity": 1, "clip": true},
 "encoding": {
  "x": {"field": "t", "type": "quantitative", "scale": {"domain": [9.4, 596], "nice": false, "zero": false}, "axis": {"values": [50,100,150,200,250,300,350,400,450,500,550], "title": null}},
  "y": {"field": "lo", "type": "quantitative", "scale": {"domain": [-4.0, 3.071], "nice": false, "zero": false}, "axis": {"values": [-4, -2, 0, 2], "title": "Pacc(t) [p.u.]", "labelExpr": "datum.value < 0 ? '-' + format(-datum.value, '~g') : format(datum.value, '~g')"}},
  "y2": {"field": "hi"},
  "detail": {"field": "g", "type": "nominal"}
 }},
{"data": {"name": "pl"}, "transform": [{"filter": "datum.s == 'Paccident(t)'"}], "mark": {"type": "line", "strokeWidth": 3, "clip": true, "strokeJoin": "round"},
 "encoding": {
  "x": {"field": "t", "type": "quantitative", "scale": {"domain": [9.4, 596], "nice": false, "zero": false}, "axis": {"values": [50,100,150,200,250,300,350,400,450,500,550], "title": null}},
  "y": {"field": "v", "type": "quantitative", "scale": {"domain": [-4.0, 3.071], "nice": false, "zero": false}, "axis": {"values": [-4, -2, 0, 2], "title": "Pacc(t) [p.u.]", "labelExpr": "datum.value < 0 ? '-' + format(-datum.value, '~g') : format(datum.value, '~g')"}},
  "color": {"field": "s", "type": "nominal", "scale": {"domain": ["Pacc(t)", "Paccident(t)", "Idnet enable(t)"], "range": ["#00ff00", "#0000ff", "#ff0000"]},
   "legend": {"title": null, "legendX": 695.3, "legendY": 159, "symbolSize": 2440, "symbolStrokeWidth": 3, "symbolOffset": 0.5, "labelOffset": 4.3, "padding": 2.7, "clipHeight": 18, "rowPadding": 4.15, "labelFontStyle": "italic", "labelFontSize": 18}},
  "strokeDash": {"field": "s", "type": "nominal", "scale": {"domain": ["Pacc(t)", "Paccident(t)", "Idnet enable(t)"], "range": [[16, 9], [1, 0], [1, 0]]},
   "legend": {"title": null, "legendX": 695.3, "legendY": 159, "symbolSize": 2440, "symbolStrokeWidth": 3, "symbolOffset": 0.5, "labelOffset": 4.3, "padding": 2.7, "clipHeight": 18, "rowPadding": 4.15, "labelFontStyle": "italic", "labelFontSize": 18}}
 }},
{"data": {"name": "dl"}, "mark": {"type": "rule", "strokeDash": [13, 7], "strokeWidth": 2, "color": "#000"},
 "encoding": {"x": {"field": "t", "type": "quantitative"}, "y": {"datum": 3.62}, "y2": {"datum": -4.549}}}
]
},
{
"width": 1069, "height": 303,
"layer": [
{"data": {"name": "st"}, "mark": {"type": "line", "strokeWidth": 3.5, "clip": true, "interpolate": "step-after"},
 "encoding": {
  "x": {"field": "t", "type": "quantitative", "scale": {"domain": [9.4, 596], "nice": false, "zero": false}, "axis": {"values": [50,100,150,200,250,300,350,400,450,500,550], "title": "t [s]", "titlePadding": 7}},
  "y": {"field": "v", "type": "quantitative", "scale": {"domain": [-1.065, 25.825], "nice": false, "zero": false}, "axis": {"values": [0, 5, 10, 15, 20, 25], "title": null}},
  "color": {"field": "s", "type": "nominal",
   "scale": {"domain": ["Ident enable(t)", "No error(t)", "Steady state(t)", "Ident1zvr(t)", "Ident2zvr(t)", "Ident3zvr(t)", "Ident4zvr(t)", "Ident xm1 fin(t)", "Ident5zvr(t)", "Ident6zvr(t)", "Ident7zvr(t)", "Ident8zvr(t)", "Ident xm2 fin(t)"],
    "range": ["#a0a0ff", "#3d74ff", "#0a14ff", "#000096", "#00ff00", "#00c800", "#008a00", "#9cff00", "#000096", "#0a14ff", "#a0a0ff", "#3d74ff", "#000096"]},
   "legend": {"title": null, "legendX": 889.7, "legendY": -4.3, "symbolSize": 2025, "symbolStrokeWidth": 3.5, "symbolOffset": 5.4, "labelOffset": 7.4, "padding": 3.2, "clipHeight": 16, "rowPadding": 2.55, "labelFontStyle": "italic", "labelFontSize": 17.5}}
 }},
{"data": {"name": "dl"}, "mark": {"type": "rule", "strokeDash": [13, 7], "strokeWidth": 2, "color": "#000"},
 "encoding": {"x": {"field": "t", "type": "quantitative"}, "y": {"datum": 27.64}, "y2": {"datum": -6.39}}},
{"data": {"values": [{"label": "DETALJ «A»"}]}, "mark": {"type": "rect", "fill": "#dedede", "stroke": "#222", "strokeWidth": 1.5},
 "encoding": {"x": {"datum": 538.9}, "x2": {"datum": 600.4}, "y": {"datum": -3.9}, "y2": {"datum": -5.77}}},
{"data": {"values": [{"label": "DETALJ «A»"}]}, "mark": {"type": "text", "font": "Liberation Serif", "fontWeight": "bold", "fontSize": 15, "color": "#000"},
 "encoding": {"x": {"datum": 569.7}, "y": {"datum": -4.84}, "text": {"field": "label"}}}
]
}
],
"config": {
 "font": "Liberation Serif",
 "view": {"stroke": "#000", "strokeWidth": 1.2},
 "axis": {"domain": false, "grid": true, "gridColor": "#000", "gridDash": [1.6, 7.4], "gridWidth": 1.4, "gridOpacity": 0.9,
  "ticks": true, "tickColor": "#000", "tickSize": -10, "tickWidth": 2.2,
  "labelFont": "Liberation Serif", "labelFontSize": 19, "labelColor": "#000",
  "titleFont": "Liberation Serif", "titleFontSize": 22, "titleFontWeight": "normal", "titleColor": "#000", "labelOverlap": false},
 "axisX": {"labelPadding": 18, "labelFlush": false},
 "axisY": {"labelPadding": 17, "titleX": -44},
 "legend": {"orient": "none", "symbolType": "stroke", "labelFont": "Liberation Serif", "labelColor": "#000", "fillColor": "#ffffff", "strokeColor": "#333333", "labelLimit": 0}
}
}
